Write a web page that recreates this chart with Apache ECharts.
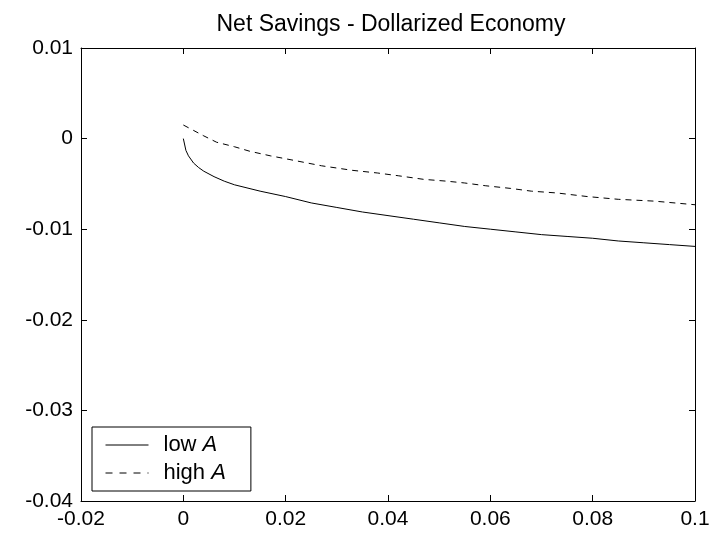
<!DOCTYPE html>
<html><head><meta charset="utf-8">
<script src="https://cdn.jsdelivr.net/npm/echarts@6/dist/echarts.min.js"></script>
<style>html,body{margin:0;padding:0;background:#fff}#c{width:713px;height:534px}</style>
</head><body><div id="c"></div>
<script>
var title = 'Net Savings - Dollarized Economy';
var xTicks = [-0.02, 0, 0.02, 0.04, 0.06, 0.08, 0.1];
var yTicks = [-0.04, -0.03, -0.02, -0.01, 0, 0.01];
var lowX = [0, 0.0005, 0.001, 0.002, 0.003, 0.004, 0.006, 0.008, 0.01, 0.015, 0.02, 0.025, 0.03, 0.035, 0.04, 0.045, 0.05, 0.055, 0.06, 0.065, 0.07, 0.075, 0.08, 0.085, 0.09, 0.095, 0.1];
var lowY = [0, -0.0013, -0.0019, -0.0027, -0.0032, -0.0036, -0.0042, -0.0047, -0.0051, -0.0058, -0.0064, -0.0071, -0.0076, -0.0081, -0.0085, -0.0089, -0.0093, -0.0097, -0.0100, -0.0103, -0.0106, -0.0108, -0.0110, -0.0113, -0.0115, -0.0117, -0.0119];
var highX = [0, 0.002, 0.004, 0.0065, 0.01, 0.013, 0.017, 0.0216, 0.027, 0.033, 0.038, 0.042, 0.047, 0.0515, 0.055, 0.059, 0.064, 0.068, 0.073, 0.079, 0.085, 0.092, 0.1];
var highY = [0.0015, 0.0009, 0.0003, -0.0004, -0.0009, -0.0014, -0.0019, -0.0024, -0.0030, -0.0035, -0.0038, -0.0041, -0.0045, -0.0047, -0.0049, -0.0052, -0.0055, -0.0058, -0.0060, -0.0064, -0.0067, -0.0069, -0.0073];

function pairs(xs, ys){ return xs.map(function(x,i){return [x, ys[i]];}); }
function fmt(v){ return String(Math.round(v*1000)/1000); }
var font = 'Liberation Sans, Arial, sans-serif';
var axisCommon = {
  axisLine:{show:true, onZero:false, lineStyle:{color:'#000', width:1}},
  axisTick:{show:true, inside:true, length:6, lineStyle:{color:'#000'}},
  splitLine:{show:false}
};
var chart = echarts.init(document.getElementById('c'), null, {renderer:'canvas'});
chart.setOption({
  animation:false,
  backgroundColor:'#fff',
  title:{text:title, left:386, textAlign:'center', top:8, textStyle:{fontFamily:font, fontSize:23, fontWeight:'normal', color:'#000'}},
  grid:{left:81, right:18, top:48, bottom:33, containLabel:false},
  xAxis:[
    Object.assign({type:'value', position:'bottom', min:xTicks[0], max:xTicks[xTicks.length-1], interval:0.02,
      axisLabel:{color:'#000', fontFamily:font, fontSize:21, margin:8, formatter:fmt, showMinLabel:true, showMaxLabel:true}}, axisCommon),
    Object.assign({type:'value', position:'top', min:xTicks[0], max:xTicks[xTicks.length-1], interval:0.02,
      axisLabel:{show:false}}, axisCommon)
  ],
  yAxis:[
    Object.assign({type:'value', position:'left', min:yTicks[0], max:yTicks[yTicks.length-1], interval:0.01,
      axisLabel:{color:'#000', fontFamily:font, fontSize:21, margin:8, formatter:fmt, showMinLabel:true, showMaxLabel:true}}, axisCommon),
    Object.assign({type:'value', position:'right', min:yTicks[0], max:yTicks[yTicks.length-1], interval:0.01,
      axisLabel:{show:false}}, axisCommon)
  ],
  legend:{
    left:92, top:427, orient:'vertical', backgroundColor:'#fff', borderColor:'#000', borderWidth:1, borderRadius:0,
    padding:[7,25,7,13], itemWidth:43, itemHeight:14, itemGap:6,
    itemStyle:{opacity:0},
    lineStyle:{width:1, color:'#000'},
    textStyle:{fontFamily:font, fontSize:22, color:'#000',
      rich:{n:{fontFamily:font, fontSize:22, color:'#000', padding:[0,0,0,10]}, i:{fontFamily:font, fontSize:22, fontStyle:'italic', color:'#000'}}},
    formatter:function(name){ var p = name.split(' '); return '{n|' + p[0] + ' }{i|' + p[1] + '}'; },
    data:[{name:'low A'}, {name:'high A', lineStyle:{type:[7,7], width:1, color:'#000'}}]
  },
  series:[
    {name:'low A', type:'line', data:pairs(lowX, lowY), symbol:'none', showSymbol:false, lineStyle:{color:'#000', width:1, type:'solid'}, itemStyle:{color:'#000'}},
    {name:'high A', type:'line', data:pairs(highX, highY), symbol:'none', showSymbol:false, lineStyle:{color:'#000', width:1, type:[6,5]}, itemStyle:{color:'#000'}}
  ]
});
</script></body></html>
